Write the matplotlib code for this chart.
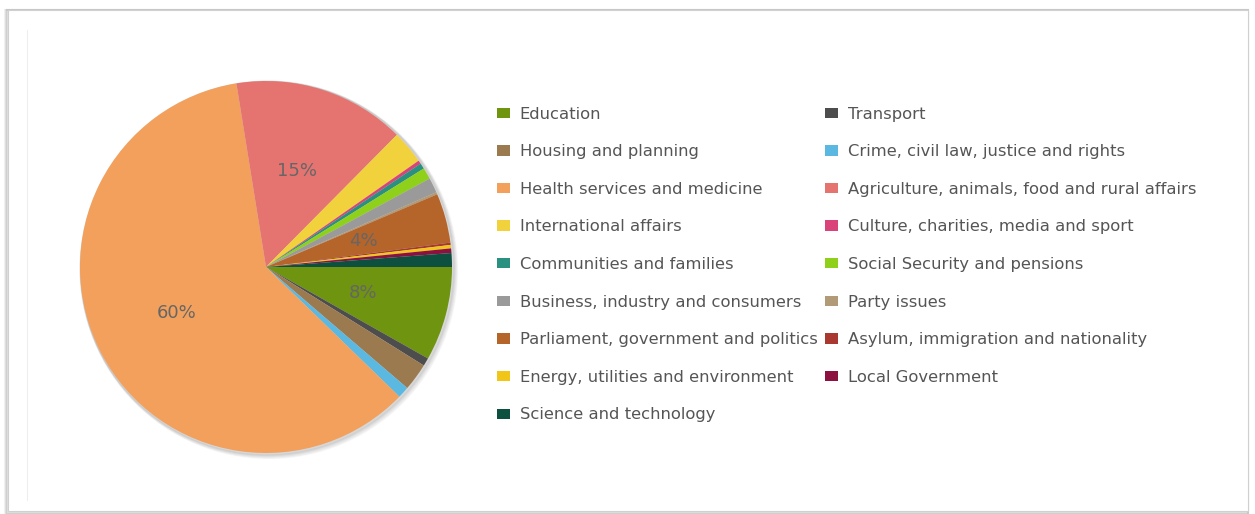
import matplotlib.pyplot as plt
from matplotlib.patches import Rectangle, Circle, Patch

plt.rcParams["font.family"] = ["DejaVu Sans"]

categories = [
    "Education", "Transport", "Housing and planning",
    "Crime, civil law, justice and rights", "Health services and medicine",
    "Agriculture, animals, food and rural affairs", "International affairs",
    "Culture, charities, media and sport", "Communities and families",
    "Social Security and pensions", "Business, industry and consumers",
    "Party issues", "Parliament, government and politics",
    "Asylum, immigration and nationality", "Energy, utilities and environment",
    "Local Government", "Science and technology",
]
shares = [8.2, 0.7, 2.4, 1.0, 60.3, 15.0, 2.9, 0.3, 0.5, 1.0, 1.3,
          0.2, 4.3, 0.2, 0.3, 0.4, 1.2]
colors = [
    "#6e9410", "#4d4d4d", "#9c7a50", "#5bb8e0", "#f3a05c", "#e57470",
    "#f2d23c", "#d9437a", "#2a9080", "#8fd01a", "#9a9a9a", "#b09a78",
    "#b5642a", "#a83830", "#f2c618", "#8c1040", "#0d5040",
]

W, H = 1255, 514
fig = plt.figure(figsize=(W / 100, H / 100), dpi=100)
fig.patch.set_facecolor("white")

# card frame with a soft shadow
for off, a in [(3, 0.10), (2, 0.15), (1, 0.25)]:
    fig.patches.append(Rectangle(((8 - off) / W, (2 - off) / H), (1240 + off) / W, (502 + off) / H,
                                 transform=fig.transFigure, facecolor="none",
                                 edgecolor="#7f7f7f", alpha=a, linewidth=1.5, zorder=-5))
fig.patches.append(Rectangle((8 / W, 3 / H), 1240 / W, 501 / H, transform=fig.transFigure,
                             facecolor="white", edgecolor="#d0d0d0", linewidth=0.8, zorder=-4))
fig.lines.append(plt.Line2D([27 / W, 27 / W], [14 / H, 484 / H], transform=fig.transFigure,
                            color="#eeeeee", linewidth=0.8, zorder=-3))

cx, cy, r = 266, 267, 186
ax = fig.add_axes([(cx - r) / W, (H - cy - r) / H, 2 * r / W, 2 * r / H])
ax.set_zorder(2)

# pie shadow
for off, a in [(5, 0.05), (4, 0.07), (3, 0.09), (2, 0.12)]:
    ax.add_patch(Circle((off / r * 0.6, -off / r * 0.6), 1.0 + off / r * 0.5,
                        color="#808080", alpha=a, zorder=0, clip_on=False))

wedges, texts, autotexts = ax.pie(
    shares, colors=colors, startangle=0, counterclock=False,
    autopct=lambda p: f"{p:.0f}%" if p >= 4 else "",
    pctdistance=0.54, wedgeprops=dict(linewidth=0),
    textprops=dict(color="#666666", fontsize=13),
)
ax.set_xlim(-1.0, 1.0)
ax.set_ylim(-1.0, 1.0)
ax.axis("off")

# legend in row-major order, two columns
handles = [Patch(facecolor=c) for c in colors]
order = list(range(0, len(categories), 2)) + list(range(1, len(categories), 2))
leg = fig.legend(
    [handles[i] for i in order], [categories[i] for i in order],
    ncol=2, loc="upper left", bbox_to_anchor=(490 / W, 1 - 100 / H),
    frameon=False, fontsize=11.8, labelcolor="#555555",
    handlelength=0.8, handleheight=0.6, handletextpad=0.6,
    labelspacing=1.38, columnspacing=0.45, borderaxespad=0,
)
leg.set_zorder(3)

fig.savefig("out.png", dpi=100, facecolor="white")
